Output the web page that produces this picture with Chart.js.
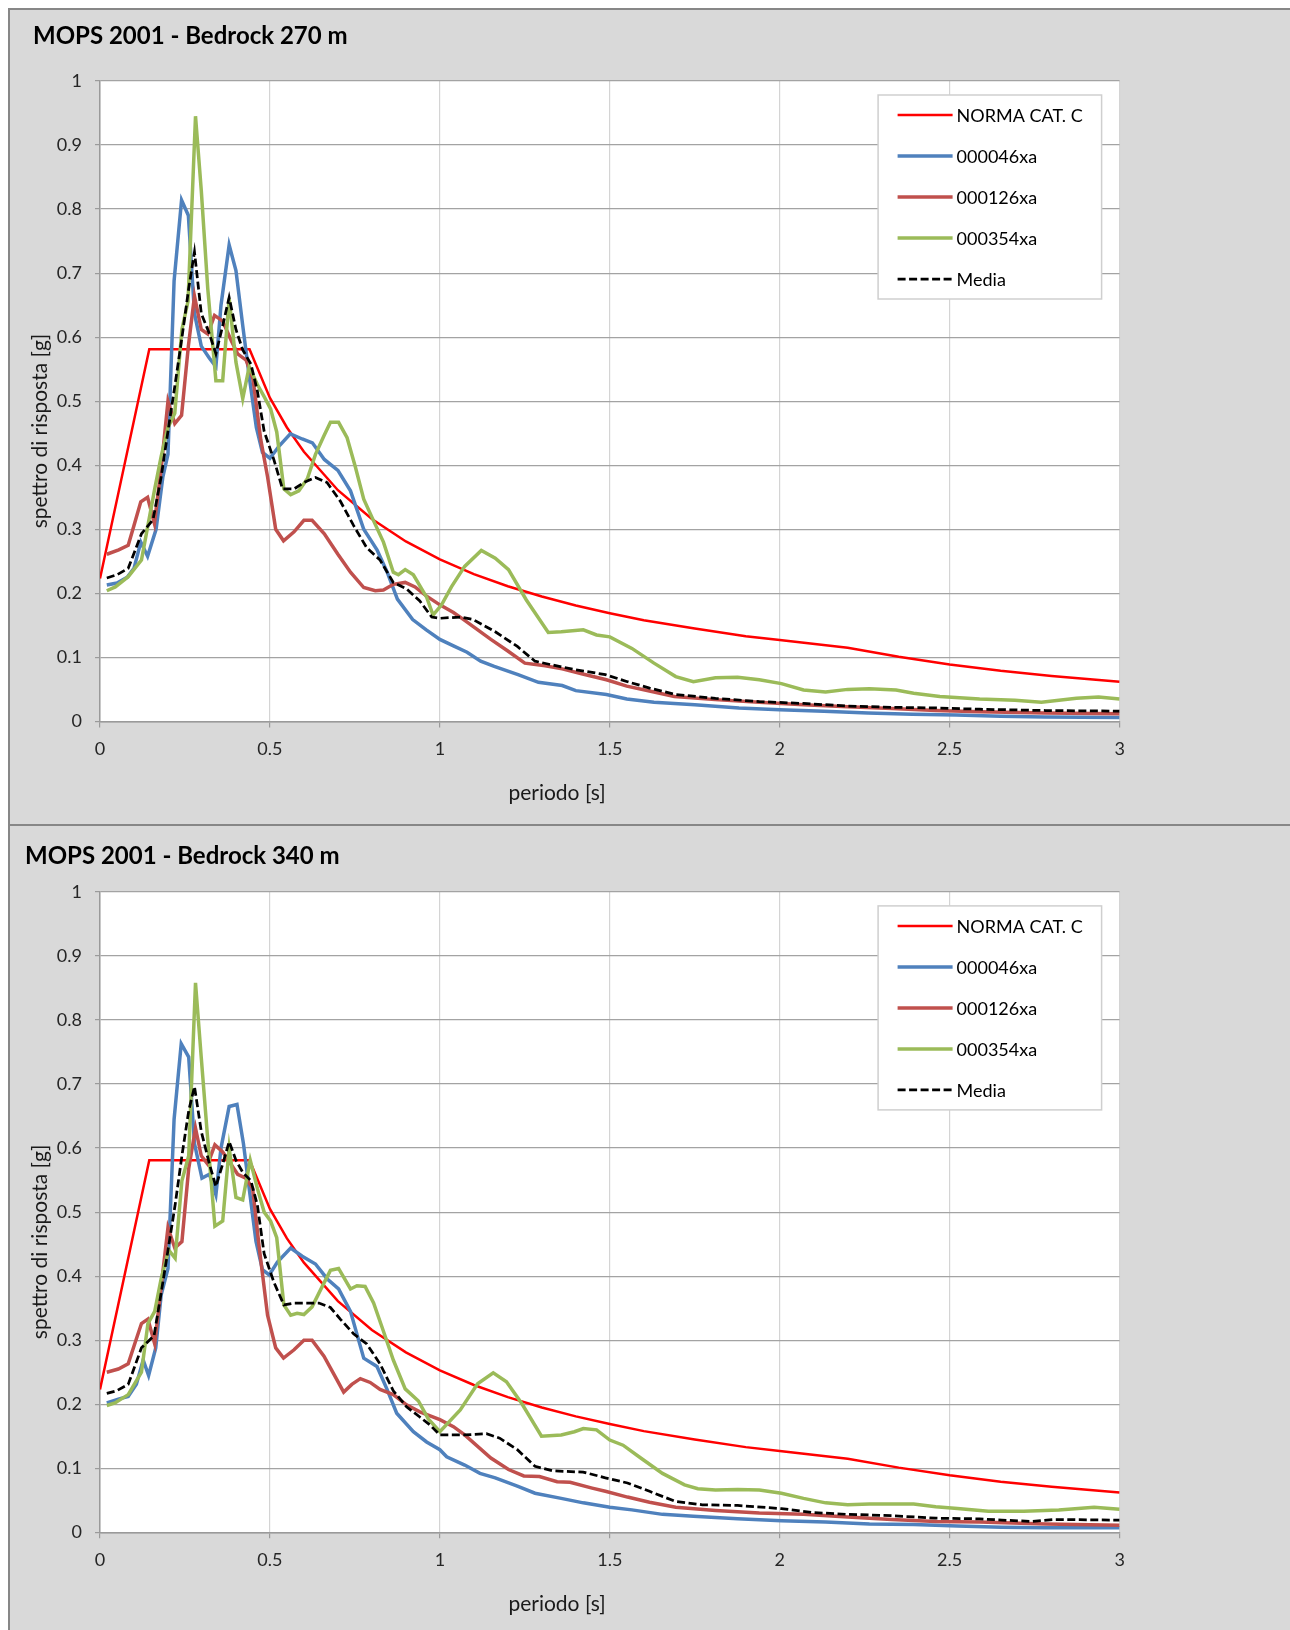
<!DOCTYPE html>
<html>
<head>
<meta charset="utf-8">
<script src="https://cdn.jsdelivr.net/npm/chart.js@4.4.1/dist/chart.umd.min.js"></script>
<style>
  body { margin: 0; background: #fff; width: 1290px; height: 1630px; overflow: hidden; position: relative; }
  .panel { position: absolute; left: 8px; width: 1282px; background: #d9d9d9; border: 2px solid #878787; border-right: none; }
  #p1 { top: 8px; height: 814px; }
  #p2 { top: 824px; height: 804px; border-bottom: none; }
  canvas { display: block; }
</style>
</head>
<body>
<div class="panel" id="p1"><canvas id="c1" width="1280" height="814"></canvas></div>
<div class="panel" id="p2"><canvas id="c2" width="1280" height="804"></canvas></div>
<script>
// tick labels
const xTicks = [0, 0.5, 1, 1.5, 2, 2.5, 3];
const yTicks = [0, 0.1, 0.2, 0.3, 0.4, 0.5, 0.6, 0.7, 0.8, 0.9, 1];

// spectrum of the code, soil cat. C  [period s, g]
const normaCatC = [[0,0.223],[0.145,0.581],[0.44,0.581],[0.5,0.505],[0.55,0.459],[0.6,0.421],[0.7,0.361],
  [0.8,0.316],[0.9,0.281],[1.0,0.253],[1.1,0.230],[1.2,0.211],[1.3,0.195],[1.4,0.181],[1.5,0.169],[1.6,0.158],
  [1.75,0.145],[1.9,0.133],[2.0,0.127],[2.2,0.115],[2.35,0.101],[2.5,0.089],[2.65,0.079],[2.8,0.071],[3.0,0.062]];

// ---- Bedrock 270 m
const b270_046 = [[0.02,0.213],[0.05,0.216],[0.08,0.225],[0.10,0.239],[0.12,0.28],[0.14,0.258],[0.165,0.30],
  [0.185,0.382],[0.20,0.417],[0.218,0.688],[0.24,0.814],[0.26,0.79],[0.278,0.637],[0.298,0.586],[0.322,0.567],
  [0.341,0.554],[0.356,0.65],[0.38,0.744],[0.40,0.704],[0.42,0.618],[0.44,0.535],[0.46,0.459],[0.478,0.42],
  [0.50,0.411],[0.527,0.43],[0.56,0.449],[0.595,0.441],[0.625,0.435],[0.66,0.409],[0.70,0.392],[0.737,0.36],
  [0.776,0.30],[0.815,0.268],[0.845,0.233],[0.875,0.191],[0.92,0.159],[0.96,0.143],[1.0,0.128],[1.04,0.118],
  [1.08,0.108],[1.12,0.094],[1.16,0.086],[1.23,0.073],[1.29,0.061],[1.36,0.056],[1.40,0.048],[1.49,0.042],
  [1.55,0.035],[1.63,0.03],[1.75,0.026],[1.88,0.021],[2.0,0.018],[2.13,0.016],[2.26,0.013],[2.39,0.011],
  [2.52,0.01],[2.65,0.008],[2.78,0.007],[3.0,0.006]];
const b270_126 = [[0.02,0.261],[0.055,0.268],[0.083,0.275],[0.10,0.306],[0.12,0.343],[0.14,0.35],[0.16,0.309],
  [0.18,0.395],[0.20,0.50],[0.22,0.465],[0.24,0.478],[0.26,0.586],[0.278,0.664],[0.298,0.612],[0.317,0.605],
  [0.337,0.634],[0.361,0.625],[0.385,0.596],[0.405,0.574],[0.43,0.564],[0.45,0.535],[0.473,0.44],[0.493,0.382],
  [0.517,0.30],[0.54,0.282],[0.571,0.296],[0.60,0.314],[0.624,0.314],[0.66,0.293],[0.70,0.261],[0.737,0.233],
  [0.776,0.209],[0.81,0.204],[0.834,0.205],[0.863,0.214],[0.898,0.217],[0.927,0.21],[0.96,0.196],[1.0,0.182],
  [1.04,0.17],[1.07,0.159],[1.15,0.128],[1.20,0.11],[1.25,0.091],[1.31,0.087],[1.36,0.082],[1.42,0.074],
  [1.49,0.065],[1.55,0.055],[1.62,0.047],[1.69,0.039],[1.81,0.034],[1.94,0.03],[2.07,0.026],[2.2,0.023],
  [2.33,0.02],[2.46,0.017],[2.59,0.015],[2.78,0.013],[3.0,0.012]];
const b270_354 = [[0.02,0.204],[0.045,0.21],[0.083,0.226],[0.122,0.252],[0.141,0.306],[0.161,0.363],[0.18,0.414],
  [0.20,0.459],[0.22,0.481],[0.241,0.612],[0.259,0.656],[0.281,0.945],[0.298,0.829],[0.317,0.676],[0.341,0.532],
  [0.361,0.532],[0.38,0.66],[0.40,0.561],[0.42,0.504],[0.439,0.554],[0.463,0.526],[0.483,0.507],[0.502,0.488],
  [0.52,0.452],[0.541,0.363],[0.561,0.354],[0.585,0.36],[0.61,0.379],[0.634,0.417],[0.659,0.446],[0.678,0.467],
  [0.702,0.467],[0.727,0.443],[0.751,0.398],[0.776,0.347],[0.80,0.319],[0.834,0.28],[0.863,0.233],[0.878,0.229],
  [0.898,0.237],[0.922,0.229],[0.961,0.194],[0.98,0.166],[1.005,0.182],[1.034,0.21],[1.073,0.242],[1.122,0.267],
  [1.163,0.255],[1.202,0.237],[1.254,0.19],[1.319,0.139],[1.357,0.14],[1.422,0.143],[1.461,0.135],[1.5,0.132],
  [1.565,0.114],[1.63,0.091],[1.694,0.07],[1.746,0.062],[1.811,0.068],[1.876,0.069],[1.94,0.065],[2.005,0.059],
  [2.07,0.049],[2.135,0.046],[2.2,0.05],[2.264,0.051],[2.342,0.049],[2.394,0.044],[2.471,0.039],[2.588,0.035],
  [2.692,0.033],[2.77,0.030],[2.873,0.036],[2.938,0.038],[3.0,0.035]];
const b270_media = [[0.02,0.224],[0.05,0.229],[0.083,0.239],[0.122,0.293],[0.156,0.315],[0.18,0.382],[0.20,0.453],
  [0.22,0.523],[0.241,0.599],[0.261,0.676],[0.278,0.733],[0.298,0.637],[0.322,0.605],[0.341,0.574],[0.361,0.618],
  [0.38,0.662],[0.40,0.612],[0.42,0.58],[0.444,0.558],[0.463,0.516],[0.483,0.453],[0.512,0.408],[0.537,0.363],
  [0.571,0.363],[0.60,0.373],[0.634,0.381],[0.668,0.373],[0.707,0.344],[0.746,0.306],[0.785,0.271],[0.824,0.252],
  [0.863,0.217],[0.902,0.207],[0.941,0.188],[0.976,0.163],[1.0,0.161],[1.06,0.163],[1.098,0.159],[1.163,0.14],
  [1.228,0.117],[1.28,0.094],[1.332,0.088],[1.396,0.081],[1.487,0.073],[1.552,0.062],[1.617,0.052],[1.694,0.042],
  [1.811,0.036],[1.94,0.031],[2.07,0.028],[2.2,0.024],[2.329,0.022],[2.459,0.021],[2.588,0.019],[2.782,0.017],
  [3.0,0.016]];

// ---- Bedrock 340 m
const b340_046 = [[0.02,0.202],[0.054,0.208],[0.083,0.212],[0.107,0.231],[0.127,0.269],[0.143,0.245],[0.164,0.288],
  [0.18,0.371],[0.20,0.412],[0.218,0.645],[0.239,0.763],[0.261,0.742],[0.278,0.607],[0.30,0.553],[0.322,0.559],
  [0.341,0.527],[0.356,0.60],[0.38,0.665],[0.403,0.668],[0.422,0.607],[0.439,0.537],[0.459,0.454],[0.478,0.41],
  [0.498,0.402],[0.522,0.422],[0.561,0.444],[0.595,0.431],[0.634,0.419],[0.668,0.396],[0.702,0.38],[0.737,0.345],
  [0.776,0.272],[0.815,0.259],[0.844,0.224],[0.873,0.186],[0.922,0.157],[0.961,0.141],[1.0,0.129],[1.02,0.118],
  [1.073,0.105],[1.118,0.092],[1.163,0.085],[1.228,0.072],[1.28,0.061],[1.357,0.053],[1.422,0.046],[1.5,0.039],
  [1.565,0.035],[1.655,0.028],[1.746,0.025],[1.876,0.021],[2.005,0.018],[2.135,0.016],[2.264,0.013],[2.394,0.012],
  [2.523,0.010],[2.653,0.008],[2.782,0.007],[3.0,0.007]];
const b340_126 = [[0.02,0.25],[0.054,0.255],[0.083,0.263],[0.102,0.294],[0.122,0.326],[0.141,0.333],[0.161,0.294],
  [0.18,0.384],[0.20,0.476],[0.22,0.444],[0.241,0.454],[0.261,0.568],[0.281,0.631],[0.298,0.588],[0.317,0.575],
  [0.338,0.605],[0.361,0.594],[0.385,0.575],[0.405,0.559],[0.429,0.553],[0.449,0.537],[0.468,0.447],[0.493,0.339],
  [0.517,0.288],[0.54,0.272],[0.571,0.285],[0.60,0.30],[0.624,0.30],[0.659,0.275],[0.688,0.247],[0.717,0.219],
  [0.741,0.231],[0.766,0.24],[0.795,0.234],[0.824,0.223],[0.863,0.215],[0.902,0.199],[0.941,0.188],[1.0,0.176],
  [1.04,0.165],[1.073,0.152],[1.15,0.116],[1.202,0.098],[1.247,0.088],[1.293,0.087],[1.345,0.079],[1.383,0.078],
  [1.448,0.069],[1.487,0.064],[1.552,0.055],[1.617,0.047],[1.694,0.039],[1.811,0.034],[1.94,0.03],[2.07,0.028],
  [2.2,0.024],[2.329,0.02],[2.459,0.017],[2.588,0.016],[2.782,0.013],[3.0,0.011]];
const b340_354 = [[0.02,0.198],[0.044,0.202],[0.083,0.215],[0.122,0.25],[0.141,0.326],[0.161,0.345],[0.18,0.396],
  [0.202,0.441],[0.221,0.428],[0.241,0.549],[0.261,0.588],[0.281,0.858],[0.298,0.741],[0.317,0.613],[0.338,0.478],
  [0.361,0.486],[0.38,0.60],[0.40,0.523],[0.42,0.519],[0.442,0.581],[0.463,0.537],[0.483,0.50],[0.502,0.486],
  [0.52,0.46],[0.541,0.355],[0.561,0.339],[0.58,0.342],[0.60,0.34],[0.624,0.352],[0.654,0.384],[0.678,0.409],
  [0.702,0.412],[0.737,0.38],[0.756,0.385],[0.78,0.384],[0.805,0.358],[0.834,0.314],[0.863,0.269],[0.898,0.224],
  [0.937,0.205],[0.966,0.177],[1.0,0.157],[1.06,0.191],[1.111,0.232],[1.157,0.249],[1.196,0.235],[1.241,0.201],
  [1.299,0.15],[1.357,0.152],[1.396,0.157],[1.422,0.162],[1.461,0.16],[1.5,0.144],[1.539,0.136],[1.591,0.116],
  [1.655,0.092],[1.72,0.074],[1.759,0.068],[1.811,0.066],[1.876,0.067],[1.94,0.066],[2.005,0.061],[2.07,0.053],
  [2.135,0.046],[2.2,0.043],[2.264,0.044],[2.394,0.044],[2.459,0.04],[2.523,0.037],[2.614,0.033],[2.718,0.033],
  [2.821,0.035],[2.925,0.039],[3.0,0.036]];
const b340_media = [[0.02,0.217],[0.049,0.221],[0.083,0.231],[0.122,0.288],[0.159,0.307],[0.18,0.374],[0.202,0.447],
  [0.221,0.511],[0.241,0.588],[0.261,0.658],[0.278,0.696],[0.298,0.626],[0.322,0.575],[0.341,0.54],[0.361,0.575],
  [0.38,0.61],[0.40,0.581],[0.42,0.562],[0.444,0.549],[0.463,0.511],[0.483,0.435],[0.512,0.39],[0.541,0.355],
  [0.571,0.358],[0.61,0.358],[0.644,0.358],[0.678,0.351],[0.707,0.333],[0.746,0.31],[0.785,0.294],[0.824,0.263],
  [0.863,0.221],[0.902,0.196],[0.941,0.18],[0.97,0.168],[1.0,0.152],[1.073,0.152],[1.137,0.154],[1.176,0.147],
  [1.228,0.129],[1.28,0.103],[1.332,0.096],[1.422,0.094],[1.487,0.085],[1.552,0.077],[1.617,0.064],[1.694,0.048],
  [1.772,0.043],[1.876,0.042],[2.005,0.037],[2.096,0.031],[2.2,0.028],[2.329,0.026],[2.459,0.022],[2.588,0.021],
  [2.653,0.019],[2.743,0.017],[2.808,0.020],[3.0,0.019]];

const toXY = arr => arr.map(p => ({ x: p[0], y: p[1] }));

Chart.defaults.font.family = 'Lato, "Open Sans", sans-serif';
Chart.defaults.color = '#262626';

// white plot area, custom axis titles and framed legend inside the plot
const frame = {
  id: 'frame',
  beforeDraw(chart) {
    const { ctx, chartArea: a } = chart;
    ctx.save();
    ctx.fillStyle = '#fff';
    ctx.fillRect(a.left, a.top, a.width, a.height);
    ctx.restore();
  },
  afterDraw(chart, args, opts) {
    const { ctx, chartArea: a } = chart;
    ctx.save();
    ctx.fillStyle = '#1a1a1a';
    ctx.font = '21px Lato, "Open Sans", sans-serif';
    ctx.textAlign = 'center';
    ctx.textBaseline = 'middle';
    ctx.fillText(opts.xTitle, a.left + 457, a.bottom + 72);
    ctx.save();
    ctx.translate(30.5, a.top + 350);
    ctx.rotate(-Math.PI / 2);
    ctx.fillText(opts.yTitle, 0, 0);
    ctx.restore();

    // legend
    const bx = a.right - 241.5, by = a.top + 14, bw = 223.5, bh = 204;
    ctx.fillStyle = '#fff';
    ctx.fillRect(bx, by, bw, bh);
    ctx.strokeStyle = '#cfcfcf';
    ctx.lineWidth = 1.5;
    ctx.strokeRect(bx, by, bw, bh);
    ctx.font = '18px Lato, "Open Sans", sans-serif';
    ctx.textAlign = 'left';
    chart.data.datasets.forEach((ds, i) => {
      const y = by + 20 + i * 41;
      ctx.beginPath();
      ctx.strokeStyle = ds.borderColor;
      ctx.lineWidth = ds.borderWidth;
      ctx.setLineDash(ds.borderDash || []);
      ctx.moveTo(bx + 19.5, y);
      ctx.lineTo(bx + 74.5, y);
      ctx.stroke();
      ctx.setLineDash([]);
      ctx.fillStyle = '#000';
      ctx.fillText(ds.label, bx + 78.5, y + 1);
    });
    ctx.restore();
  }
};

function makeChart(id, cfg) {
  const datasets = [
    { label: 'NORMA CAT. C', data: toXY(normaCatC), borderColor: '#ff0000', borderWidth: 2.5, order: 5 },
    { label: '000046xa', data: toXY(cfg.s046), borderColor: '#4f81bd', borderWidth: 3.5, order: 4 },
    { label: '000126xa', data: toXY(cfg.s126), borderColor: '#c0504d', borderWidth: 3.5, order: 3 },
    { label: '000354xa', data: toXY(cfg.s354), borderColor: '#9bbb59', borderWidth: 3.5, order: 2 },
    { label: 'Media', data: toXY(cfg.media), borderColor: '#000000', borderWidth: 2.75, borderDash: [8, 3.5], order: 1 }
  ];
  return new Chart(document.getElementById(id), {
    type: 'line',
    data: { datasets },
    options: {
      responsive: false,
      animation: false,
      layout: { padding: { left: cfg.padLeft, right: 170.4, top: 0, bottom: 0 } },
      elements: { point: { radius: 0 }, line: { tension: 0, fill: false } },
      plugins: {
        legend: { display: false },
        tooltip: { enabled: false },
        title: {
          display: true, text: cfg.title, align: 'start', color: '#000',
          font: { size: 24, weight: 'bold' },
          padding: { top: cfg.titleTop, bottom: cfg.titleBottom }
        },
        frame: { xTitle: 'periodo [s]', yTitle: 'spettro di risposta [g]' }
      },
      scales: {
        x: {
          type: 'linear', min: 0, max: 3,
          afterBuildTicks: s => { s.ticks = xTicks.map(v => ({ value: v })); },
          afterFit: s => { s.height = cfg.xHeight; },
          ticks: { padding: 11, maxRotation: 0, font: { size: 18 }, color: '#262626', callback: v => String(v) },
          grid: { color: '#d4d4d4', tickColor: '#9a9a9a', tickLength: 6, lineWidth: 1.2 },
          border: { color: '#9a9a9a', width: 1.5 }
        },
        y: {
          min: 0, max: 1,
          afterBuildTicks: s => { s.ticks = yTicks.map(v => ({ value: v })); },
          afterFit: s => { s.width = 90 - cfg.padLeft; },
          ticks: { padding: 13, font: { size: 18 }, color: '#262626', callback: v => String(v) },
          grid: { color: '#a3a3a3', tickColor: '#9a9a9a', tickLength: 5, lineWidth: 1.2 },
          border: { color: '#9a9a9a', width: 1.5 }
        }
      }
    },
    plugins: [frame]
  });
}

makeChart('c1', {
  title: 'MOPS 2001 - Bedrock 270 m', padLeft: 23, titleTop: 12, titleBottom: 30.2, xHeight: 102.6,
  s046: b270_046, s126: b270_126, s354: b270_354, media: b270_media
});
makeChart('c2', {
  title: 'MOPS 2001 - Bedrock 340 m', padLeft: 15, titleTop: 16.1, titleBottom: 21, xHeight: 97.7,
  s046: b340_046, s126: b340_126, s354: b340_354, media: b340_media
});
</script>
</body>
</html>
